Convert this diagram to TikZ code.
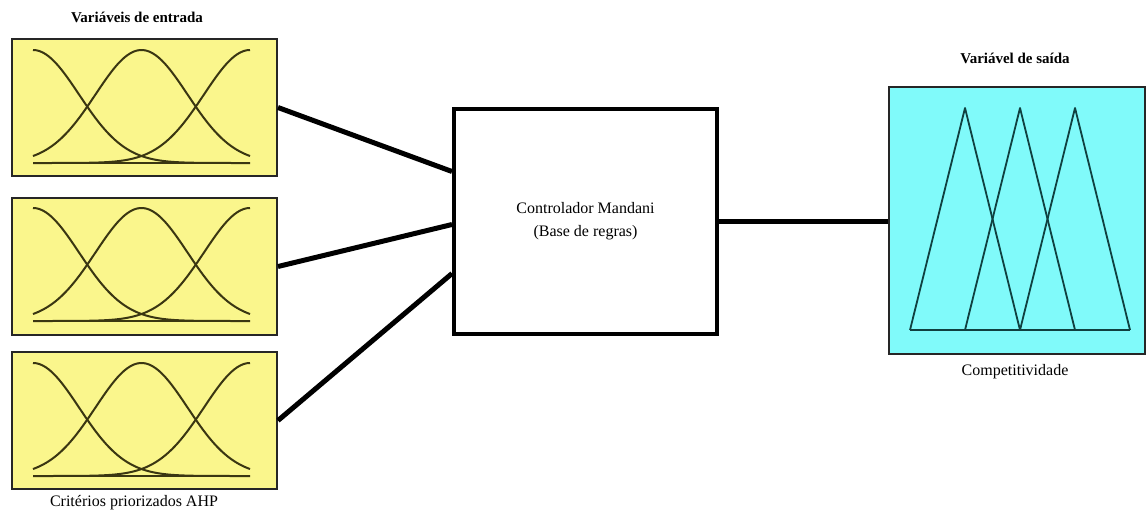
\documentclass[tikz,border=0pt]{standalone}
\usepackage{fontspec}
\setmainfont{Liberation Serif}
\definecolor{boxyellow}{RGB}{250,246,140}
\definecolor{boxcyan}{RGB}{128,250,250}
\definecolor{olive}{RGB}{58,54,18}
\definecolor{teal}{RGB}{16,64,64}
\tikzset{
  inbox/.style={draw=black!85, line width=2pt, fill=boxyellow, minimum width=265pt, minimum height=137pt, inner sep=0pt, anchor=north west},
  outbox/.style={draw=black!85, line width=2pt, fill=boxcyan, minimum width=256pt, minimum height=267pt, inner sep=0pt, anchor=north west},
  midbox/.style={draw=black, line width=4pt, fill=white, minimum width=263pt, minimum height=225pt, inner sep=0pt, anchor=north west, align=center, font=\fontsize{16}{23}\selectfont},
  curve/.style={draw=olive, line width=2pt},
  tri/.style={draw=teal, line width=1.8pt, line join=round},
  conn/.style={draw=black, line width=5pt},
  title/.style={font=\bfseries\fontsize{15}{18}\selectfont, inner sep=0pt},
  caption/.style={font=\fontsize{16}{18}\selectfont, inner sep=0pt}
}
\newcommand\gaussset[2]{%
  \draw[curve] plot[domain=0:217,samples=70,smooth] ({#1+\x},{#2+113-113*exp(-0.5*((\x)/46)^2)});
  \draw[curve] plot[domain=0:217,samples=70,smooth] ({#1+\x},{#2+113-113*exp(-0.5*((\x-108.5)/46)^2)});
  \draw[curve] plot[domain=0:217,samples=70,smooth] ({#1+\x},{#2+113-113*exp(-0.5*((\x-217)/46)^2)});
  \draw[curve] (#1,#2+113) -- (#1+217,#2+113);
}
\begin{document}
\begin{tikzpicture}[x=1pt,y=-1pt]
\useasboundingbox (0,0) rectangle (1147,519);
% input boxes
\node[inbox] (in1) at (11,38) {};
\node[inbox] (in2) at (11,197) {};
\node[inbox] (in3) at (11,351) {};
\gaussset{33}{50}
\gaussset{33}{208}
\gaussset{33}{363}
% middle box
\node[midbox] (mid) at (452,107) {Controlador Mandani\\(Base de regras)};
% output box
\node[outbox] (out) at (888,86) {};
\coordinate (b1) at (910,330);
\coordinate (b2) at (965,330);
\coordinate (b3) at (1020,330);
\coordinate (b4) at (1075,330);
\coordinate (b5) at (1130,330);
\coordinate (p1) at (965,108);
\coordinate (p2) at (1020,108);
\coordinate (p3) at (1075,108);
\draw[tri] (b1) -- (p1) -- (b3);
\draw[tri] (b2) -- (p2) -- (b4);
\draw[tri] (b3) -- (p3) -- (b5);
\draw[tri] (b1) -- (b5);
% connectors
\draw[conn] (in1.east) -- ([yshift=50pt]mid.west);
\draw[conn] (in2.east) -- ([yshift=-3pt]mid.west);
\draw[conn] (in3.east) -- ([yshift=-52pt]mid.west);
\draw[conn] (mid.east) -- (mid.east -| out.west);
% labels
\node[title] (t1) at (137,17) {Variáveis de entrada};
\node[title] (t2) at (1015,58) {Variável de saída};
\node[caption] (c1) at (1015,372) {Competitividade};
\node[caption] (c2) at (134,503) {Critérios priorizados AHP};
\end{tikzpicture}
\end{document}
